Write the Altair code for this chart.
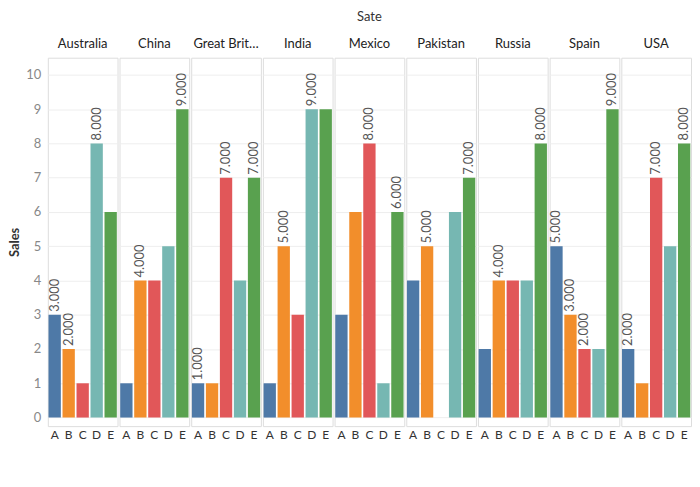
import altair as alt
import pandas as pd

countries = ['Australia', 'China', 'Great Britain', 'India', 'Mexico',
             'Pakistan', 'Russia', 'Spain', 'USA']
segments = ['A', 'B', 'C', 'D', 'E']
sales = [
    [3, 2, 1, 8, 6],
    [1, 4, 4, 5, 9],
    [1, 1, 7, 4, 7],
    [1, 5, 3, 9, 9],
    [3, 6, 8, 1, 6],
    [4, 5, None, 6, 7],
    [2, 4, 4, 4, 8],
    [5, 3, 2, 2, 9],
    [2, 1, 7, 5, 8],
]
labelled = [
    [1, 1, 0, 1, 0],
    [0, 1, 0, 0, 1],
    [1, 0, 1, 0, 1],
    [0, 1, 0, 1, 0],
    [0, 0, 1, 0, 1],
    [0, 1, 0, 0, 1],
    [0, 1, 0, 0, 1],
    [1, 1, 1, 0, 1],
    [1, 0, 1, 0, 1],
]
colors = ['#4e79a7', '#f28e2b', '#e15759', '#76b7b2', '#59a14f']

rows = []
for c, vals, labs in zip(countries, sales, labelled):
    for s, v, l in zip(segments, vals, labs):
        if v is None:
            continue
        rows.append({'Sate': c, 'Segment': s, 'Sales': v,
                     'lbl': f'{v}.000' if l else ''})
df = pd.DataFrame(rows)

base = alt.Chart(df, width=70, height=370)
x = alt.X('Segment:N', title=None, scale=alt.Scale(domain=segments, paddingInner=0.12, paddingOuter=0.05),
          axis=alt.Axis(labelAngle=0, ticks=False, domain=False, labelColor='#333', labelFontSize=12))
y = alt.Y('Sales:Q', title='Sales', scale=alt.Scale(domain=[-0.25, 10.5], nice=False),
          axis=alt.Axis(values=list(range(11)), grid=True, gridColor='#eeeeee', ticks=False,
                        domain=False, labelColor='#888', labelFontSize=13, titleColor='#333',
                        titleFontWeight='bold', titleFontSize=13, labelPadding=6))

bars = base.mark_bar().encode(
    x=x, y=y,
    color=alt.Color('Segment:N', scale=alt.Scale(domain=segments, range=colors), legend=None),
)
text = base.transform_filter(alt.datum.lbl != '').mark_text(
    angle=270, align='left', baseline='middle', dx=3, color='#555', fontSize=13
).encode(x=x, y=y, text='lbl:N')

chart = (bars + text).facet(
    column=alt.Column('Sate:N', sort=countries, header=alt.Header(
        title='Sate', titleOrient='top', labelOrient='top', labelFontSize=13,
        labelColor='#222', titleFontSize=13, titleColor='#333', labelLimit=70,
        titleFontWeight='normal', labelPadding=6, titlePadding=4)),
    spacing=0,
).properties(padding={'left': 0, 'top': 2, 'right': 0, 'bottom': 0}
).configure_view(stroke='#dddddd').configure(font='Lato')

chart.save('out.html', embed_options={'renderer': 'svg', 'actions': False})
